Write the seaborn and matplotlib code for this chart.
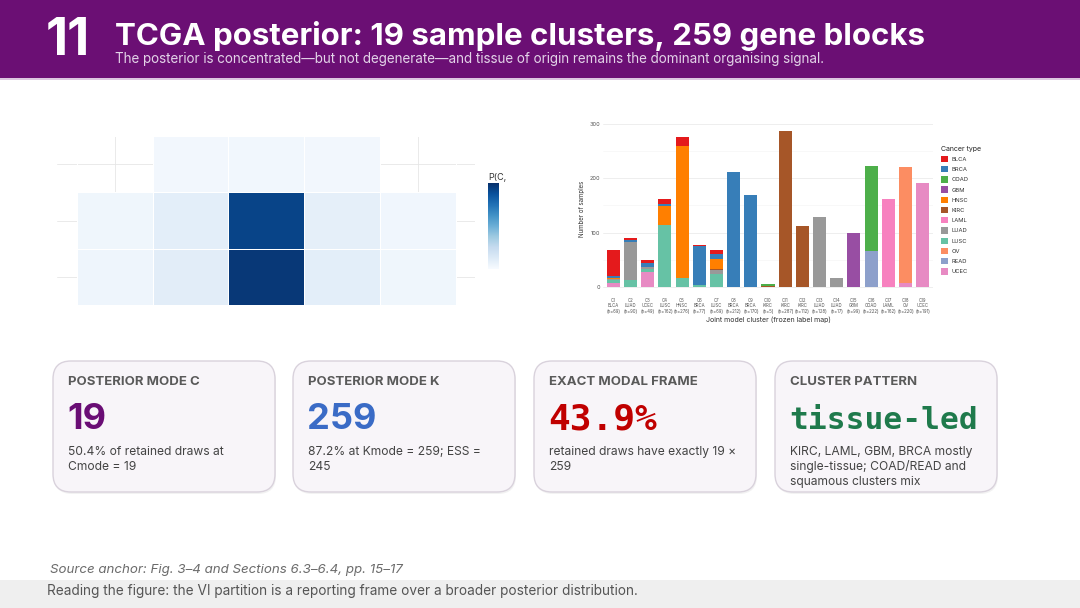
import numpy as np
import pandas as pd
import seaborn as sns
import matplotlib.pyplot as plt
from matplotlib.patches import FancyBboxPatch, Rectangle

# ---- data ----
clusters = ["C%d" % i for i in range(1, 20)]
cluster_tissue = ["BLCA", "LUAD", "UCEC", "LUSC", "HNSC", "BRCA", "LUSC", "BRCA", "BRCA", "KIRC",
                  "KIRC", "KIRC", "LUAD", "LUAD", "GBM", "COAD", "LAML", "OV", "UCEC"]
cluster_n = [69, 90, 49, 162, 276, 77, 69, 212, 170, 5, 287, 112, 128, 17, 99, 222, 162, 220, 191]

cancer_types = ["BLCA", "BRCA", "COAD", "GBM", "HNSC", "KIRC", "LAML", "LUAD", "LUSC", "OV", "READ", "UCEC"]
type_colors = ["#E41A1C", "#377EB8", "#4DAF4A", "#984EA3", "#FF7F00", "#A65628",
               "#F781BF", "#999999", "#66C2A5", "#FC8D62", "#8DA0CB", "#E78AC3"]

# counts per cancer type, one value per cluster C1..C19
BLCA = [49, 3, 5, 10, 16, 1, 9, 0, 0, 0, 0, 0, 0, 0, 0, 0, 0, 0, 0]
BRCA = [4, 4, 7, 3, 0, 72, 8, 212, 170, 0, 0, 0, 0, 0, 0, 0, 0, 0, 0]
COAD = [0, 0, 0, 0, 0, 0, 0, 0, 0, 2, 0, 0, 0, 0, 0, 156, 0, 0, 0]
GBM = [0, 0, 0, 0, 0, 0, 0, 0, 0, 0, 0, 0, 0, 0, 99, 0, 0, 0, 0]
HNSC = [1, 0, 0, 34, 243, 0, 18, 0, 0, 0, 0, 0, 0, 0, 0, 0, 0, 0, 0]
KIRC = [0, 0, 0, 0, 0, 0, 3, 0, 0, 3, 287, 112, 0, 0, 0, 0, 0, 0, 0]
LAML = [0, 0, 0, 0, 0, 0, 0, 0, 0, 0, 0, 0, 0, 0, 0, 0, 162, 0, 0]
LUAD = [2, 70, 3, 0, 0, 0, 7, 0, 0, 0, 0, 0, 128, 17, 0, 0, 0, 0, 0]
LUSC = [6, 13, 6, 115, 17, 4, 24, 0, 0, 0, 0, 0, 0, 0, 0, 0, 0, 0, 0]
OV = [0, 0, 0, 0, 0, 0, 0, 0, 0, 0, 0, 0, 0, 0, 0, 0, 0, 213, 0]
READ = [0, 0, 0, 0, 0, 0, 0, 0, 0, 0, 0, 0, 0, 0, 0, 66, 0, 0, 0]
UCEC = [7, 0, 28, 0, 0, 0, 0, 0, 0, 0, 0, 0, 0, 0, 0, 0, 0, 7, 191]
counts = dict(BLCA=BLCA, BRCA=BRCA, COAD=COAD, GBM=GBM, HNSC=HNSC, KIRC=KIRC, LAML=LAML,
              LUAD=LUAD, LUSC=LUSC, OV=OV, READ=READ, UCEC=UCEC)

# posterior mass P(C, K) on the cropped grid (NaN = not visited)
hm_top = [np.nan, 0.014, 0.016, 0.014, np.nan]
hm_mid = [0.018, 0.045, 0.425, 0.042, 0.017]
hm_bot = [0.020, 0.050, 0.445, 0.046, 0.018]

cards = [
    ("POSTERIOR MODE C", "19", "#6a0d75", "sans", ["50.4% of retained draws at", "Cmode = 19"]),
    ("POSTERIOR MODE K", "259", "#3a6bc6", "sans", ["87.2% at Kmode = 259; ESS =", "245"]),
    ("EXACT MODAL FRAME", "43.9%", "#c00000", "mono", ["retained draws have exactly 19 \u00d7", "259"]),
    ("CLUSTER PATTERN", "tissue-led", "#1f7a4c", "mono",
     ["KIRC, LAML, GBM, BRCA mostly", "single-tissue; COAD/READ and", "squamous clusters mix"]),
]

W, H = 1080, 608
sns.set_theme(style="white")
plt.rcParams['font.family'] = ['Inter', 'DejaVu Sans']


def box(x0, y0, x1, y1):
    return [x0 / W, 1 - y1 / H, (x1 - x0) / W, (y1 - y0) / H]


fig = plt.figure(figsize=(W / 100, H / 100), dpi=100)
fig.patch.set_facecolor("white")

# background layer in pixel coords
bg = fig.add_axes([0, 0, 1, 1])
bg.set_xlim(0, W)
bg.set_ylim(H, 0)
bg.axis("off")
bg.set_zorder(-1)

bg.add_patch(Rectangle((0, 0), W, 78, color="#6b0f74", lw=0))
bg.add_patch(Rectangle((0, 78), W, 2, color="#dcc6e0", lw=0))
bg.text(46, 55, "11", color="white", fontsize=37, fontweight="bold", va="baseline")
bg.text(115, 45, "TCGA posterior: 19 sample clusters, 259 gene blocks", color="white",
        fontsize=22.5, fontweight="bold", va="baseline")
bg.text(115, 63, "The posterior is concentrated\u2014but not degenerate\u2014and tissue of origin "
        "remains the dominant organising signal.", color="#e3d3e8", fontsize=9.7, va="baseline")

# ---- heatmap panel ----
ax1 = fig.add_axes(box(57, 136, 475, 305))
cax = fig.add_axes(box(488, 183, 499, 269))
hm = pd.DataFrame([hm_top, hm_mid, hm_bot])
sns.heatmap(hm, ax=ax1, cmap="Blues", vmin=0, vmax=0.46, cbar_ax=cax,
            linewidths=0.4, linecolor="white", xticklabels=False, yticklabels=False)
ax1.set_xlim(-0.26, 5.25)
ax1.set_ylim(3, 0)
for yv in [0.5, 1.5, 2.5]:
    ax1.axhline(yv, color="#e6e6e6", lw=0.6, zorder=0)
ax1.vlines([0, 0.5, 4.5, 5], 0, 1, color="#e6e6e6", lw=0.6, zorder=0)
ax1.set_xlabel("")
ax1.set_ylabel("")
for s in ax1.spines.values():
    s.set_visible(False)
cax.set_yticks([0.1, 0.2, 0.3, 0.4])
cax.tick_params(axis="y", which="both", direction="in", length=2.5, width=0.6, color="white",
                left=True, right=True, labelright=False, labelleft=False)
for s in cax.spines.values():
    s.set_visible(False)
bg.text(488, 180, "P(C,", fontsize=6.5, color="#333333", va="baseline")

# ---- stacked bar panel ----
rows = []
for t in cancer_types:
    for c, v in zip(clusters, counts[t]):
        if v > 0:
            rows.append((c, t, v))
df = pd.DataFrame(rows, columns=["cluster", "type", "count"])
df["cluster"] = pd.Categorical(df["cluster"], categories=clusters, ordered=True)

ax2 = fig.add_axes(box(603, 123, 933, 295))
sns.histplot(data=df, x="cluster", hue="type", weights="count", multiple="stack", discrete=True,
             shrink=0.76, hue_order=cancer_types, palette=dict(zip(cancer_types, type_colors)),
             linewidth=0, alpha=1, ax=ax2)
ax2.set_xlim(-0.6, 18.6)
ax2.set_ylim(-14.35, 301.35)
ax2.set_yticks([0, 100, 200, 300])
ax2.set_yticks([50, 150, 250], minor=True)
ax2.yaxis.grid(True, which="major", color="#ebebeb", lw=0.6)
ax2.yaxis.grid(True, which="minor", color="#f3f3f3", lw=0.4)
ax2.xaxis.grid(False)
ax2.set_axisbelow(True)
for s in ax2.spines.values():
    s.set_visible(False)
ax2.set_xticks(range(len(clusters)))
ax2.set_xticklabels(["%s\n%s\n(n=%d)" % (c, t, n) for c, t, n in zip(clusters, cluster_tissue, cluster_n)],
                    fontsize=3.1, color="#555555", linespacing=1.15)
ax2.tick_params(axis="both", length=0, pad=2)
ax2.tick_params(axis="y", labelsize=4, labelcolor="#555555")
ax2.set_ylabel("Number of samples", fontsize=4.4, color="#333333", labelpad=3)
ax2.set_xlabel("Joint model cluster (frozen label map)", fontsize=5, color="#333333", labelpad=2)
sns.move_legend(ax2, "upper left", bbox_to_anchor=(941 / W, 1 - 146 / H), bbox_transform=fig.transFigure,
                frameon=False, title="Cancer type", fontsize=4.2, title_fontsize=5,
                handlelength=1.25, handleheight=1.3, labelspacing=0.66, handletextpad=0.6,
                borderaxespad=0, borderpad=0)
leg = ax2.get_legend()
leg._legend_box.align = "left"
for txt in leg.get_texts():
    txt.set_color("#333333")

# ---- metric cards ----
card_x = [53, 293, 534, 775]
for x0, (head, value, vcol, vfont, body) in zip(card_x, cards):
    bg.add_patch(FancyBboxPatch((x0 + 1, 363), 222, 131, boxstyle="round,pad=0,rounding_size=18",
                                fc=(0, 0, 0, 0.05), ec="none", zorder=1))
    bg.add_patch(FancyBboxPatch((x0, 361), 222, 131, boxstyle="round,pad=0,rounding_size=18",
                                fc="#f8f5f9", ec="#d9d2dc", lw=1, zorder=2))
    bg.text(x0 + 15, 385, head, fontsize=9.5, fontweight="bold", color="#5a5a5a", va="baseline", zorder=3)
    if vfont == "mono":
        fam = ["DejaVu Sans Mono"]
        size = 26 if value != "tissue-led" else 22.5
    else:
        fam = ["Inter", "DejaVu Sans"]
        size = 26
    bg.text(x0 + 14, 429, value, fontsize=size, fontweight="bold", color=vcol, family=fam,
            va="baseline", zorder=3)
    for i, line in enumerate(body):
        bg.text(x0 + 15, 455 + 15 * i, line, fontsize=8.7, color="#444444", va="baseline", zorder=3)

# ---- footer ----
bg.text(50, 573, "Source anchor: Fig. 3\u20134 and Sections 6.3\u20136.4, pp. 15\u201317", fontsize=9.6,
        style="italic", color="#6b6b6b", va="baseline")
bg.add_patch(Rectangle((0, 580), W, 28, color="#efefef", lw=0))
bg.text(47, 595, "Reading the figure: the VI partition is a reporting frame over a broader posterior distribution.",
        fontsize=9.8, color="#555555", va="baseline")

fig.savefig("out.png", dpi=100)
